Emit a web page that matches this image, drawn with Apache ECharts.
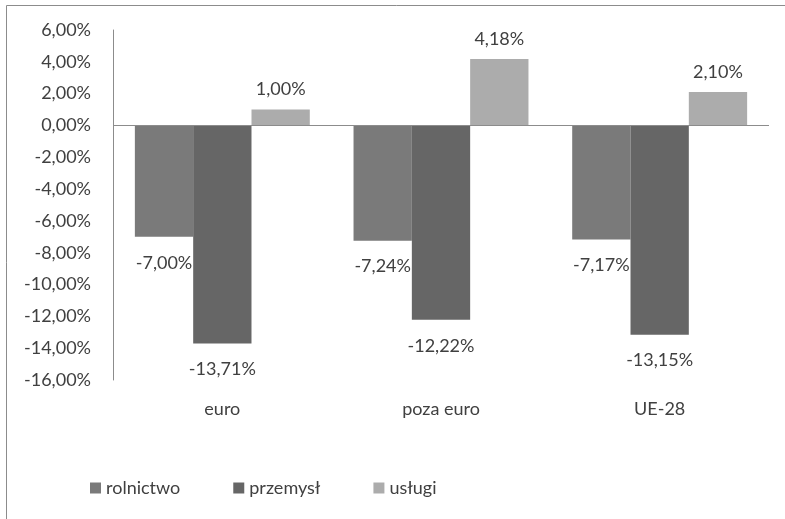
<!DOCTYPE html>
<html>
<head>
<meta charset="utf-8">
<script src="https://cdn.jsdelivr.net/npm/echarts@6/dist/echarts.min.js"></script>
<style>
  html, body { margin: 0; padding: 0; background: #fff; }
  #main { width: 785px; height: 519px; }
</style>
</head>
<body>
<div id="main"></div>
<script>
// dane
let categories = ['euro', 'poza euro', 'UE-28']
let rolnictwo = [-7.00, -7.24, -7.17]
let przemysl = [-13.71, -12.22, -13.15]
let uslugi = [1.00, 4.18, 2.10]

let myChart = echarts.init(document.getElementById('main'))

let fmt = v => v.toFixed(2).replace('.', ',') + '%'
let font = 'Lato'
let fontSize = 18
let textColor = '#404040'

let barLabel = (pos, dist) => ({
    show: true,
    position: pos,
    distance: dist,
    fontFamily: font,
    fontSize: fontSize,
    color: textColor,
    formatter: p => fmt(p.value)
})

myChart.setOption({
    animation: false,
    textStyle: { fontFamily: font },
    graphic: [{
        type: 'rect',
        shape: { x: 6.5, y: 5.5, width: 800, height: 600 },
        style: { fill: 'none', stroke: '#8c8c8c', lineWidth: 1 },
        silent: true
    }],
    grid: { left: 113, right: 16, top: 30, bottom: 139 },
    legend: {
        left: 85,
        top: 474,
        icon: 'rect',
        itemWidth: 11,
        itemHeight: 11,
        itemGap: 53,
        textStyle: { fontFamily: font, fontSize: fontSize, color: textColor },
        data: ['rolnictwo', 'przemysł', 'usługi']
    },
    xAxis: {
        type: 'category',
        data: categories,
        axisLine: { show: false, onZero: false },
        axisTick: { show: false },
        axisLabel: { margin: 20, fontFamily: font, fontSize: fontSize, color: textColor }
    },
    yAxis: {
        type: 'value',
        min: -16,
        max: 6,
        interval: 2,
        axisLine: { show: true, lineStyle: { color: '#8c8c8c' } },
        axisTick: { show: false },
        splitLine: { show: false },
        axisLabel: {
            margin: 22,
            fontFamily: font,
            fontSize: fontSize,
            color: textColor,
            formatter: v => fmt(v)
        }
    },
    series: [
        {
            name: 'rolnictwo',
            type: 'bar',
            data: rolnictwo,
            barGap: '0%',
            barCategoryGap: '20%',
            itemStyle: { color: '#7a7a7a' },
            label: barLabel('bottom', 17),
            markLine: {
                silent: true,
                symbol: 'none',
                label: { show: false },
                lineStyle: { color: '#8c8c8c', type: 'solid', width: 1 },
                data: [{ yAxis: 0 }]
            }
        },
        {
            name: 'przemysł',
            type: 'bar',
            data: przemysl,
            barGap: '0%',
            barCategoryGap: '20%',
            itemStyle: { color: '#666666' },
            label: barLabel('bottom', 17)
        },
        {
            name: 'usługi',
            type: 'bar',
            data: uslugi,
            barGap: '0%',
            barCategoryGap: '20%',
            itemStyle: { color: '#acacac' },
            label: barLabel('top', 11)
        }
    ]
})
</script>
</body>
</html>
